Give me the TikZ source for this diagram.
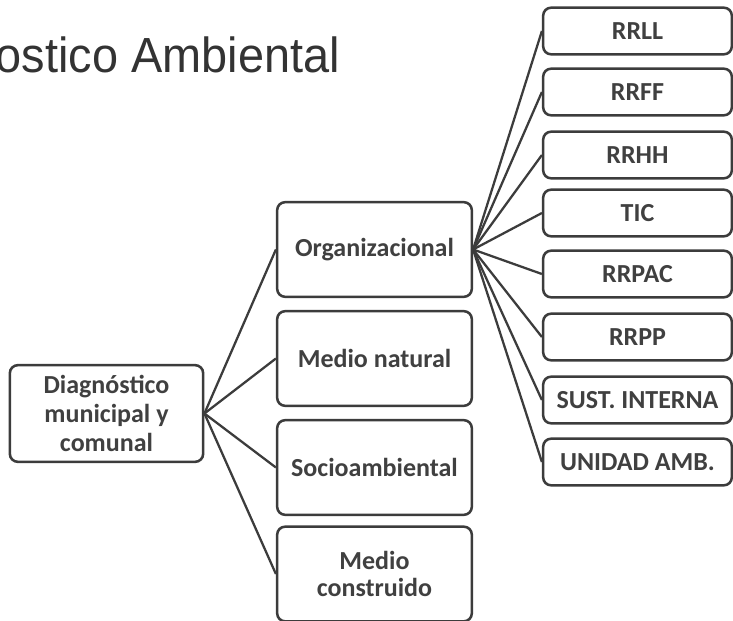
\documentclass[tikz,border=0pt]{standalone}
\usepackage{fontspec}
\setmainfont{Carlito}
\newfontfamily\titlefont{Liberation Sans}
\definecolor{boxtext}{HTML}{404040}
\definecolor{boxline}{HTML}{3C3C3C}
\definecolor{titlecol}{HTML}{333333}
\begin{document}
\begin{tikzpicture}[x=0.75pt,y=-0.75pt,
  box/.style={draw=boxline, line width=1.9pt, rounded corners=6pt, fill=white,
    inner sep=0pt, align=center, text=boxtext,
    font=\bfseries\fontsize{19.5}{21.5}\selectfont},
  midbox/.style={box, minimum width=146pt, minimum height=71pt},
  leafbox/.style={box, minimum width=141.5pt, minimum height=35pt},
  link/.style={draw=boxline, line width=1.7pt}]
\path[fill=white] (0,0) rectangle (733,621);
\useasboundingbox (0,0) rectangle (733,621);
% title
\node[anchor=base east, inner sep=0pt, text=titlecol, xscale=0.95, transform shape,
  font=\titlefont\fontsize{37}{40}\selectfont] (title) at (340,72) {ostico Ambiental};
% root
\node[box, minimum width=145pt, minimum height=72.5pt] (root) at (106.5,413.5)
  {Diagnóstico\\municipal y\\comunal};
% middle
\node[midbox] (org) at (374.5,249.5) {Organizacional};
\node[midbox] (mn) at (374.5,358.5) {Medio natural};
\node[midbox] (soc) at (374.5,467.5) {Socioambiental};
\node[midbox, font=\bfseries\fontsize{19.5}{20.5}\selectfont] (mc) at (374.5,574) {Medio\\construido};
% leaves
\node[leafbox] (l1) at (637.5,31) {RRLL};
\node[leafbox] (l2) at (637.5,92) {RRFF};
\node[leafbox] (l3) at (637.5,155) {RRHH};
\node[leafbox] (l4) at (637.5,213) {TIC};
\node[leafbox] (l5) at (637.5,274) {RRPAC};
\node[leafbox] (l6) at (637.5,337) {RRPP};
\node[leafbox] (l7) at (637.5,400) {SUST. INTERNA};
\node[leafbox] (l8) at (637.5,462) {UNIDAD AMB.};
% connectors
\foreach \m in {org,mn,soc,mc}
  \draw[link] (root.east) -- (\m.west);
\foreach \l in {l1,l2,l3,l4,l5,l6,l7,l8}
  \draw[link] (org.east) -- (\l.west);
\end{tikzpicture}
\end{document}
